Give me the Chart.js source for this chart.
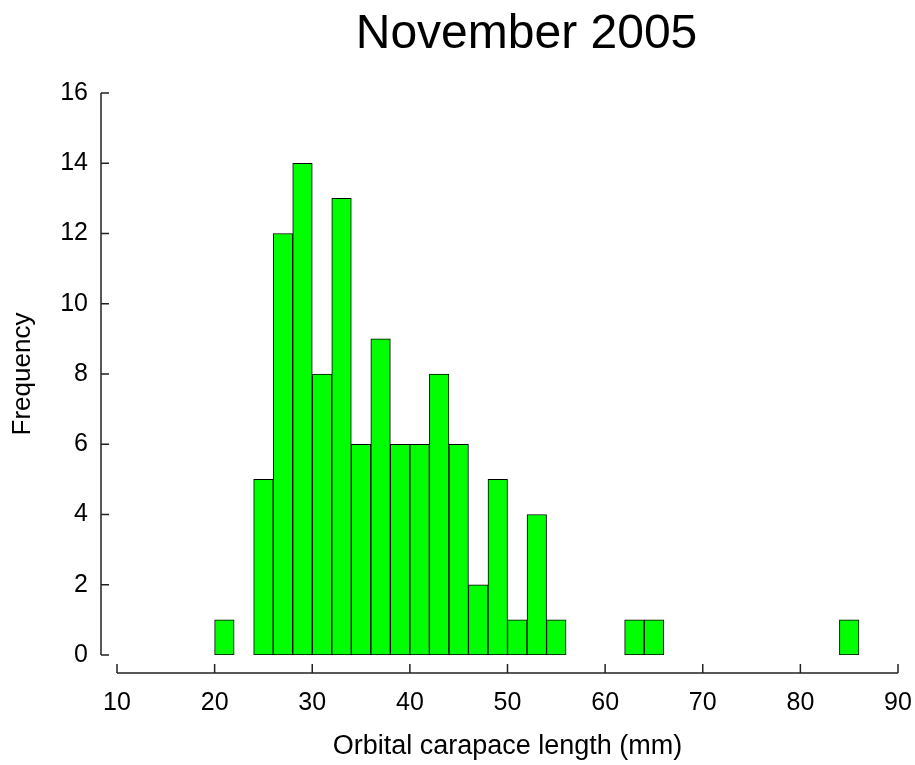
<!DOCTYPE html>
<html>
<head>
<meta charset="utf-8">
<title>November 2005</title>
<script src="https://cdn.jsdelivr.net/npm/chart.js@4/dist/chart.umd.min.js"></script>
<style>
  html, body { margin: 0; padding: 0; background: #ffffff; }
  #wrap { width: 915px; height: 765px; }
</style>
</head>
<body>
<div id="wrap"><canvas id="histChart"></canvas></div>
<script>
// Histogram bins (left edge, mm) and counts
const binStarts = [20, 22, 24, 26, 28, 30, 32, 34, 36, 38, 40, 42, 44, 46, 48, 50, 52, 54,
                   56, 58, 60, 62, 64, 66, 68, 70, 72, 74, 76, 78, 80, 82, 84];
const counts    = [1, 0, 5, 12, 14, 8, 13, 6, 9, 6, 6, 8, 6, 2, 5, 1, 4, 1,
                   0, 0, 0, 1, 1, 0, 0, 0, 0, 0, 0, 0, 0, 0, 1];
const binWidth = 2;
const xTicks = [10, 20, 30, 40, 50, 60, 70, 80, 90];
const yTicks = [0, 2, 4, 6, 8, 10, 12, 14, 16];
const chartTitle = 'November 2005';

const FONT = "'Liberation Sans', Arial, sans-serif";

// Offset axes in the old SigmaPlot style: lines sit outside the plot area.
// The title is drawn here too, since the original sits right of centre.
const detachedAxes = {
    id: 'detachedAxes',
    afterDraw(chart) {
        const { ctx, chartArea, scales } = chart;
        const xs = scales.x, ys = scales.y;
        const axX = chartArea.left - 16;
        const axY = chartArea.bottom + 18;
        ctx.save();
        ctx.strokeStyle = '#222';
        ctx.lineWidth = 1.5;
        ctx.beginPath();
        // y axis + ticks pointing right
        ctx.moveTo(axX, ys.getPixelForValue(yTicks[yTicks.length - 1]));
        ctx.lineTo(axX, ys.getPixelForValue(yTicks[0]));
        yTicks.forEach(v => {
            const py = ys.getPixelForValue(v);
            ctx.moveTo(axX, py);
            ctx.lineTo(axX + 8, py);
        });
        // x axis + ticks pointing up
        ctx.moveTo(xs.getPixelForValue(xTicks[0]), axY);
        ctx.lineTo(xs.getPixelForValue(xTicks[xTicks.length - 1]), axY);
        xTicks.forEach(v => {
            const px = xs.getPixelForValue(v);
            ctx.moveTo(px, axY);
            ctx.lineTo(px, axY - 9);
        });
        ctx.stroke();

        ctx.fillStyle = '#000';
        ctx.font = '48px ' + FONT;
        ctx.textAlign = 'center';
        ctx.textBaseline = 'middle';
        ctx.fillText(chartTitle, chartArea.left + (chartArea.right - chartArea.left) / 2 + 19, 35);
        ctx.restore();
    }
};

const points = binStarts.map((b, i) => ({
    x: b + binWidth / 2,
    y: counts[i] > 0 ? counts[i] : null
}));

new Chart(document.getElementById('histChart'), {
    type: 'bar',
    data: {
        datasets: [{
            label: 'Frequency',
            data: points,
            backgroundColor: '#00ff00',
            borderColor: '#000000',
            borderWidth: 1,
            borderSkipped: false,
            barPercentage: 1,
            categoryPercentage: 1
        }]
    },
    options: {
        responsive: true,
        maintainAspectRatio: false,
        animation: false,
        layout: { padding: { left: 0, right: 17, top: 93, bottom: 0 } },
        plugins: {
            legend: { display: false },
            tooltip: { enabled: false },
            title: { display: false }
        },
        scales: {
            x: {
                type: 'linear',
                min: 10,
                max: 90,
                offset: false,
                grid: { display: false, drawTicks: false },
                border: { display: false },
                afterFit: (scale) => {
                    scale.height = 110;
                    scale.paddingLeft = 0;
                    scale.paddingRight = 0;
                },
                afterBuildTicks: (scale) => { scale.ticks = xTicks.map(v => ({ value: v })); },
                ticks: {
                    color: '#000',
                    padding: 33,
                    maxRotation: 0,
                    font: { family: FONT, size: 25 }
                },
                title: {
                    display: true,
                    text: 'Orbital carapace length (mm)',
                    color: '#000',
                    font: { family: FONT, size: 27 },
                    padding: { top: 0, bottom: 2 }
                }
            },
            y: {
                min: 0,
                max: 16,
                grid: { display: false, drawTicks: false },
                border: { display: false },
                afterFit: (scale) => {
                    scale.width = 117;
                    scale.paddingTop = 0;
                    scale.paddingBottom = 0;
                },
                afterBuildTicks: (scale) => { scale.ticks = yTicks.map(v => ({ value: v })); },
                ticks: {
                    color: '#000',
                    padding: 29,
                    font: { family: FONT, size: 25 }
                },
                title: {
                    display: true,
                    text: 'Frequency',
                    color: '#000',
                    font: { family: FONT, size: 26 },
                    padding: { top: 7, bottom: 0 }
                }
            }
        }
    },
    plugins: [detachedAxes]
});
</script>
</body>
</html>
